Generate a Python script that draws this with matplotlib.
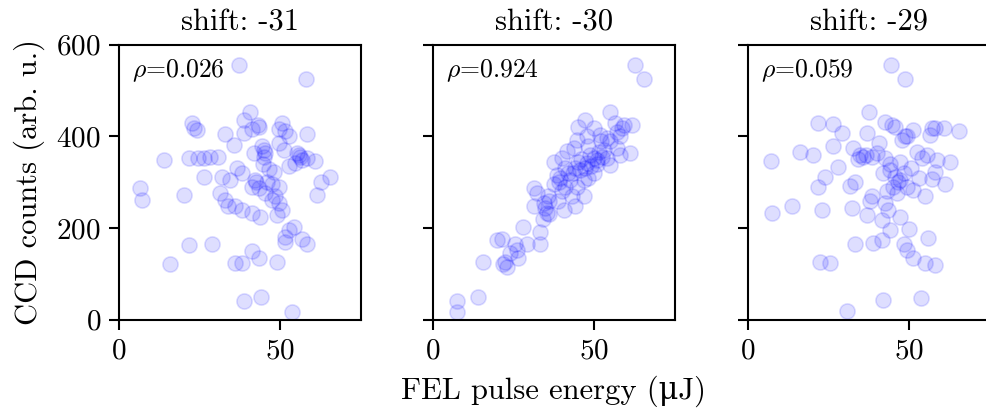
import matplotlib
matplotlib.use("Agg")
import matplotlib.pyplot as plt

plt.rcParams['font.family'] = ['cmr10', 'DejaVu Serif']
plt.rcParams['mathtext.fontset'] = 'cm'
plt.rcParams['axes.unicode_minus'] = False
plt.rcParams['axes.formatter.use_mathtext'] = True

titles = ["shift: -31", "shift: -30", "shift: -29"]
rhos = ["0.026", "0.924", "0.059"]

# shift -31
x_m31 = [37.3, 58.0, 40.7, 38.6, 22.6, 23.1, 24.1, 43.0, 43.5, 50.5, 49.5, 51.6, 52.6,
         58.3, 32.9, 38.6, 41.2, 35.5, 44.3, 44.8, 45.3, 41.7, 49.5, 51.0, 55.2, 56.2,
         56.7, 54.7, 58.3, 60.9, 52.6, 13.8, 21.7, 24.6, 26.2, 28.3, 30.8, 26.2, 36.5,
         38.1, 46.4, 47.9, 31.9, 34.5, 42.2, 41.2, 43.3, 47.4, 49.5, 45.3, 62.6, 65.5,
         61.4, 6.5, 7.0, 20.2, 31.4, 32.9, 33.9, 36.0, 38.1, 41.2, 43.8, 47.4, 49.5,
         50.5, 49.0, 52.6, 54.1, 51.6, 51.6, 56.7, 58.3, 21.7, 28.8, 15.8, 36.0, 38.1,
         41.2, 43.3, 49.0, 38.6, 44.0, 53.6, 44.5, 46.0, 45.0, 42.5, 48.5, 55.8]
y_m31 = [556, 525, 454, 436, 429, 418, 413, 425, 420, 429, 415, 411, 401,
         405, 405, 407, 415, 381, 378, 370, 363, 363, 385, 370, 363, 356,
         349, 342, 353, 346, 335, 349, 352, 352, 352, 354, 356, 312, 330,
         319, 329, 322, 312, 305, 305, 290, 287, 297, 290, 276, 301, 312,
         272, 287, 262, 272, 276, 262, 247, 247, 240, 233, 225, 262, 254,
         240, 229, 196, 203, 181, 170, 177, 166, 163, 165, 122, 124, 123,
         149, 134, 126, 40, 49, 17, 340, 300, 355, 300, 270, 360]

# shift -30
x_m30 = [62.7, 65.3, 55.0, 47.2, 45.1, 56.5, 58.6, 59.1, 61.7, 49.8, 51.9, 54.0,
         47.7, 61.2, 57.0, 58.1, 43.6, 44.6, 41.5, 37.4, 40.0, 48.8, 49.8, 50.8,
         52.4, 54.0, 55.0, 47.7, 45.6, 43.5, 42.5, 46.7, 44.6, 41.0, 38.4, 37.4,
         31.2, 32.2, 35.8, 34.3, 38.9, 35.3, 34.8, 31.2, 44.1, 46.7, 40.5, 28.0,
         33.2, 33.2, 19.8, 21.3, 25.5, 26.0, 23.9, 29.1, 26.5, 22.4, 22.9, 21.8,
         15.6, 14.1, 7.4, 7.4, 47.0, 48.0, 50.0, 51.0, 44.0, 46.0, 42.0, 39.0,
         40.0, 43.0, 36.0, 53.0, 55.0, 57.0, 58.0, 52.0, 48.0, 45.0, 41.0, 36.0,
         34.0, 49.0, 51.5, 39.5]
y_m30 = [556, 525, 454, 436, 421, 429, 418, 425, 425, 418, 403, 396,
         400, 363, 374, 360, 374, 392, 367, 345, 352, 359, 352, 349,
         356, 352, 338, 341, 327, 319, 305, 305, 290, 290, 316, 297,
         287, 276, 269, 254, 258, 232, 243, 247, 247, 269, 240, 203,
         192, 166, 174, 177, 166, 152, 145, 166, 134, 126, 116, 122,
         126, 49, 40, 17, 330, 310, 320, 340, 330, 350, 320, 300,
         280, 270, 260, 370, 390, 410, 400, 390, 380, 345, 330, 230,
         220, 335, 365, 310]

# shift -29
x_m29 = [44.4, 48.8, 37.4, 21.8, 26.3, 29.1, 36.9, 42.5, 44.6, 45.6, 48.8, 47.7,
         51.3, 49.3, 57.0, 58.1, 60.7, 65.3, 56.5, 16.2, 20.1, 7.0, 26.3, 32.7,
         34.8, 35.8, 40.0, 40.5, 42.5, 28.0, 23.9, 21.8, 31.7, 33.3, 42.0, 44.1,
         45.6, 47.2, 45.1, 48.3, 49.3, 51.3, 46.2, 53.9, 55.5, 52.4, 58.6, 62.7,
         58.1, 57.0, 61.2, 55.0, 38.4, 37.9, 42.5, 43.5, 41.5, 47.2, 49.8, 7.3,
         13.6, 22.9, 32.2, 36.9, 44.1, 33.2, 38.9, 41.5, 48.3, 49.3, 51.3, 55.7,
         22.4, 25.3, 55.0, 58.1, 41.8, 53.7, 30.8, 34.0, 36.5, 44.0, 46.5, 50.5,
         47.0, 43.0, 38.5, 53.0]
y_m29 = [556, 525, 454, 429, 428, 407, 407, 432, 425, 421, 400, 392,
         414, 400, 418, 418, 418, 411, 403, 366, 359, 347, 378, 374,
         359, 356, 363, 385, 352, 334, 312, 290, 292, 300, 319, 327,
         312, 305, 290, 319, 290, 283, 276, 352, 359, 366, 349, 345,
         323, 308, 297, 269, 269, 258, 254, 240, 218, 225, 199, 232,
         247, 240, 243, 229, 195, 165, 168, 173, 166, 152, 134, 179,
         126, 123, 123, 119, 43, 48, 20, 350, 360, 340, 300, 330,
         345, 280, 355, 310]

xs = [x_m31, x_m30, x_m29]
ys = [y_m31, y_m30, y_m29]

fig = plt.figure(figsize=(9.86, 4.12), dpi=100)
lefts = [0.1207, 0.4391, 0.7586]
axes = []
for i in range(3):
    ax = fig.add_axes([lefts[i], 0.224, 0.2454, 0.6675],
                      sharey=axes[0] if axes else None)
    axes.append(ax)
    ax.scatter(xs[i], ys[i], s=120, color='blue', alpha=0.13, linewidths=1.2)
    ax.set_xlim(0, 75)
    ax.set_ylim(0, 600)
    ax.set_xticks([0, 50])
    ax.set_yticks([0, 200, 400, 600])
    ax.set_title(titles[i], fontsize=22, pad=10)
    ax.text(0.055, 0.905, r'$\rho$=' + rhos[i], transform=ax.transAxes,
            fontsize=18.5, va='center', ha='left')
    ax.tick_params(labelsize=21, width=1.5, length=7, pad=6)
    for sp in ax.spines.values():
        sp.set_linewidth(1.5)
    if i > 0:
        ax.tick_params(labelleft=False)

axes[0].set_ylabel('CCD counts (arb. u.)', fontsize=22, labelpad=8)
axes[1].set_xlabel('FEL pulse energy (\u03bcJ)', fontsize=22, labelpad=8)

fig.savefig('out.png', dpi=100)
